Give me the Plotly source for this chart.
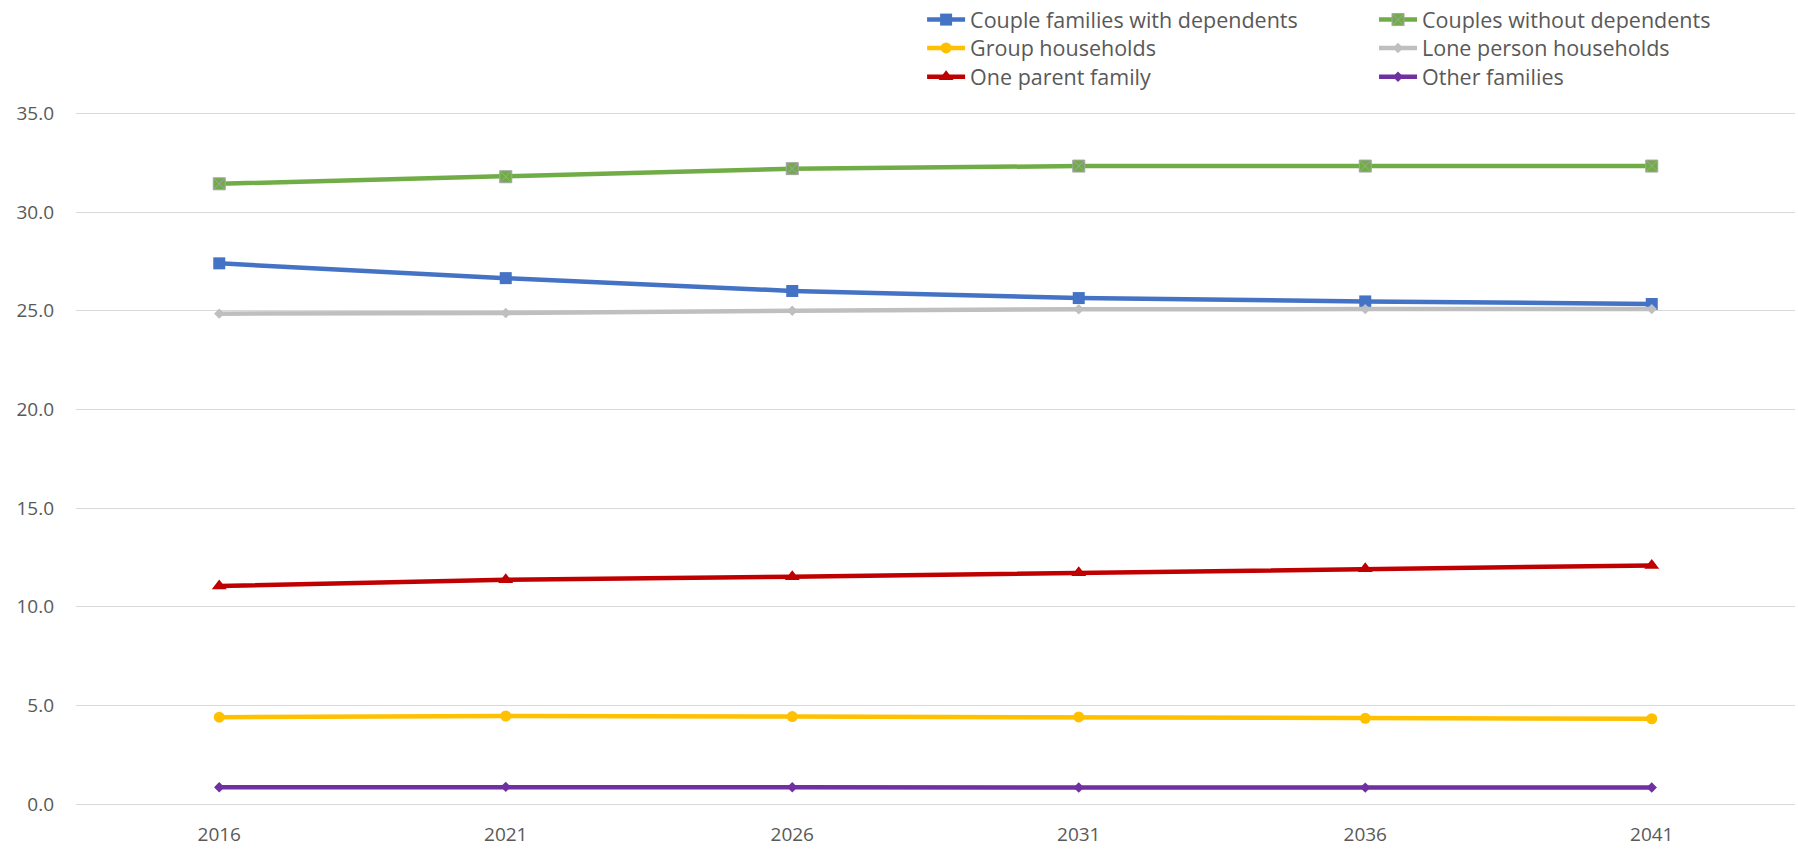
import plotly.graph_objects as go

years = ["2016", "2021", "2026", "2031", "2036", "2041"]
couple_dep = [27.40, 26.65, 26.00, 25.64, 25.47, 25.34]
couples_wo = [31.43, 31.79, 32.20, 32.33, 32.33, 32.33]
group_hh = [4.40, 4.46, 4.43, 4.41, 4.34, 4.32]
lone_person = [24.85, 24.88, 25.00, 25.07, 25.08, 25.08]
one_parent = [11.05, 11.36, 11.52, 11.72, 11.92, 12.09]
other_fam = [0.85, 0.87, 0.85, 0.84, 0.83, 0.84]
y_ticks = [0, 5, 10, 15, 20, 25, 30, 35]

FONT = "Open Sans"
series = [
    ("Couple families with dependents", couple_dep, "#4472C4", "square", 12),
    ("Couples without dependents", couples_wo, "#70AD47", "square-x", 12),
    ("Group households", group_hh, "#FFC000", "circle", 11),
    ("Lone person households", lone_person, "#BFBFBF", "diamond", 8),
    ("One parent family", one_parent, "#C00000", "triangle-up", 13),
    ("Other families", other_fam, "#7030A0", "diamond", 8),
]

# legend grid: 2 columns x 3 rows (each entry is its own legend box)
leg_cols = [0.4922, 0.7551]
leg_rows = [1.1335, 1.0925, 1.0510]

fig = go.Figure()
legends = {}
for i, (name, vals, color, sym, size) in enumerate(series):
    mline = dict(width=1, color="#A5A5A5") if sym == "square-x" else dict(width=0)
    leg = "legend" if i == 0 else f"legend{i + 1}"
    fig.add_trace(go.Scatter(
        x=years, y=vals, name=name, mode="lines+markers",
        line=dict(color=color, width=4.5),
        marker=dict(symbol=sym, size=size, color=color, line=mline),
        legend=leg, showlegend=True,
    ))
    legends[leg] = dict(
        visible=True,
        x=leg_cols[i % 2], y=leg_rows[i // 2], xanchor="left", yanchor="middle",
        orientation="v", font=dict(family=FONT, size=21.5, color="#595959"),
        bgcolor="rgba(0,0,0,0)", borderwidth=0, itemwidth=38,
    )

fig.update_layout(
    width=1798, height=849, showlegend=True,
    margin=dict(l=76, r=3, t=112, b=45, autoexpand=False),
    plot_bgcolor="white", paper_bgcolor="white",
    font=dict(family=FONT, size=19, color="#595959"),
    xaxis=dict(
        type="category", range=[-0.5, 5.5], showgrid=False,
        showline=True, linecolor="#D9D9D9", linewidth=1,
        ticks="", ticklabelstandoff=13,
        tickfont=dict(family=FONT, size=19, color="#595959"),
    ),
    yaxis=dict(
        range=[0, 35.07], tickvals=y_ticks, tickformat=".1f",
        showgrid=True, gridcolor="#D9D9D9", gridwidth=1,
        zeroline=False, showline=False, ticks="", ticklabelstandoff=21,
        tickfont=dict(family=FONT, size=19, color="#595959"),
    ),
    **legends,
)

fig.write_html(
    "out.html",
    config={"displayModeBar": False},
    post_script="document.body.style.margin='0';document.body.style.overflow='hidden';",
)
